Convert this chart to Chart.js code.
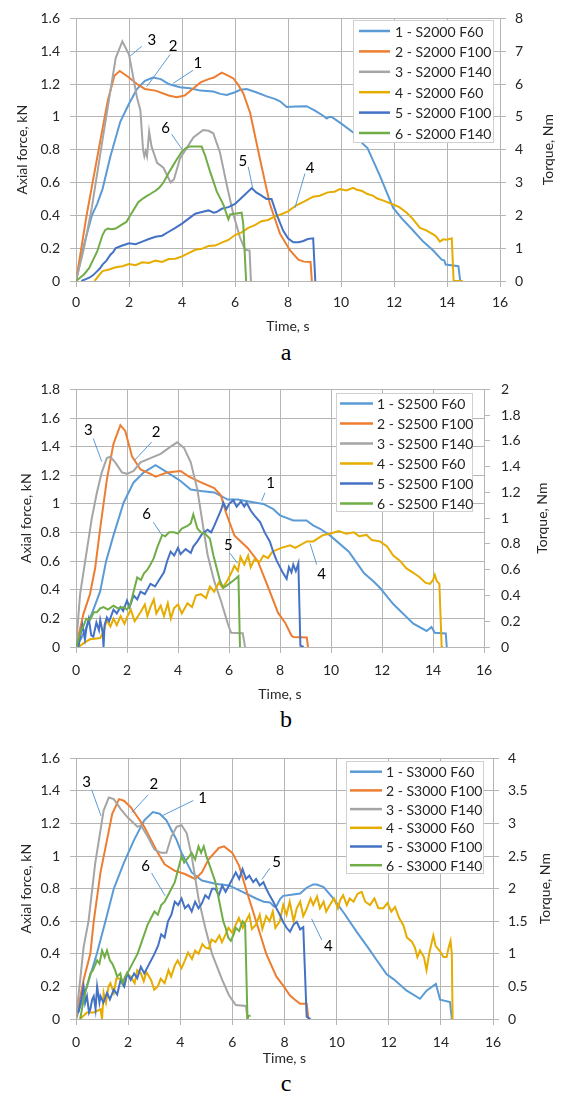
<!DOCTYPE html>
<html>
<head>
<meta charset="utf-8">
<script src="https://cdn.jsdelivr.net/npm/chart.js@4.4.0/dist/chart.umd.min.js"></script>
<style>
  body { margin: 0; background: #fff; width: 561px; height: 1097px; position: relative; overflow: hidden; }
  canvas { position: absolute; left: 0; }
  .cap { position: absolute; left: 0; width: 572px; text-align: center; font: 24px "Liberation Serif", serif; line-height: 24px; color: #000; }
</style>
</head>
<body>
<canvas id="chartA" width="561" height="337" style="top:0px;width:561px;height:337px"></canvas>
<div class="cap" style="top:340px">a</div>
<canvas id="chartB" width="561" height="335" style="top:370px;width:561px;height:335px"></canvas>
<div class="cap" style="top:707px">b</div>
<canvas id="chartC" width="561" height="329" style="top:740px;width:561px;height:329px"></canvas>
<div class="cap" style="top:1071px">c</div>
<script>
// series colours, same order in every panel
const colors = ['#5B9BD5', '#ED7D31', '#A5A5A5', '#E6AC00', '#4472C4', '#70AD47'];
const feeds = ['F60', 'F100', 'F140', 'F60', 'F100', 'F140'];

// ---- panel a: S2000 (1-3 axial force kN, 4-6 torque Nm) ----
const a1 = [[0,0],[0.3,0.22],[0.6,0.4],[0.8,0.47],[1.0,0.56],[1.3,0.76],[1.67,0.97],[2.0,1.08],[2.3,1.17],[2.6,1.22],[2.9,1.24],[3.2,1.23],[3.5,1.2],[3.92,1.18],[4.3,1.175],[4.7,1.16],[5.18,1.155],[5.45,1.14],[5.69,1.134],[6.0,1.15],[6.2,1.165],[6.44,1.17],[6.8,1.15],[7.2,1.125],[7.5,1.11],[7.7,1.095],[7.95,1.06],[8.3,1.063],[8.7,1.065],[9.0,1.04],[9.3,1.01],[9.46,0.99],[9.55,1.0],[9.65,1.0],[10.0,0.96],[10.46,0.905],[10.8,0.84],[11.0,0.81],[11.47,0.64],[11.97,0.445],[12.3,0.38],[12.73,0.306],[13.1,0.24],[13.48,0.186],[13.8,0.13],[13.9,0.125],[13.95,0.1],[14.43,0.09],[14.5,0]];
const a2 = [[0,0],[0.4,0.4],[0.9,0.84],[1.2,1.1],[1.45,1.25],[1.65,1.28],[2.0,1.24],[2.3,1.2],[2.6,1.17],[3.0,1.16],[3.5,1.13],[3.8,1.12],[4.1,1.13],[4.4,1.17],[4.7,1.21],[5.0,1.23],[5.2,1.24],[5.5,1.27],[5.7,1.255],[5.94,1.234],[6.1,1.2],[6.31,1.144],[6.57,1.025],[6.94,0.745],[7.32,0.467],[7.7,0.287],[8.08,0.186],[8.39,0.13],[8.6,0.118],[8.85,0.116],[8.9,0]];
const a3 = [[0,0],[0.3,0.2],[0.6,0.45],[1.0,0.86],[1.3,1.16],[1.5,1.36],[1.75,1.46],[2.0,1.38],[2.3,1.12],[2.43,1.04],[2.53,0.8],[2.58,0.76],[2.63,0.79],[2.68,0.76],[2.76,0.91],[2.85,0.82],[3.06,0.72],[3.3,0.69],[3.57,0.6],[3.7,0.62],[3.92,0.745],[4.43,0.875],[4.8,0.92],[5.0,0.915],[5.18,0.9],[5.43,0.785],[5.69,0.585],[5.94,0.405],[6.19,0.265],[6.38,0.19],[6.55,0.185],[6.6,0]];
const a4 = [[0.7,0],[0.8,0.1],[1.0,0.3],[1.25,0.35],[1.5,0.42],[1.75,0.45],[2.0,0.52],[2.25,0.48],[2.5,0.57],[2.75,0.55],[3.0,0.62],[3.25,0.58],[3.5,0.67],[3.75,0.68],[4.0,0.75],[4.25,0.85],[4.5,0.95],[4.75,0.98],[5.0,1.07],[5.25,1.08],[5.5,1.17],[5.75,1.25],[6.0,1.4],[6.25,1.48],[6.5,1.62],[6.75,1.7],[7.0,1.82],[7.25,1.86],[7.5,1.97],[7.7,2.02],[8.0,2.12],[8.3,2.3],[8.6,2.42],[8.95,2.57],[9.2,2.6],[9.5,2.7],[9.75,2.72],[9.96,2.8],[10.2,2.76],[10.46,2.84],[10.6,2.78],[10.8,2.74],[11.0,2.65],[11.2,2.6],[11.35,2.52],[11.6,2.45],[11.97,2.33],[12.2,2.25],[12.48,2.08],[12.7,1.9],[12.98,1.62],[13.2,1.55],[13.48,1.42],[13.6,1.35],[13.73,1.2],[13.86,1.27],[14.0,1.26],[14.18,1.3],[14.25,0],[14.6,0]];
const a5 = [[0.2,0],[0.35,0.05],[0.5,0.1],[0.65,0.18],[0.8,0.3],[0.9,0.38],[1.0,0.5],[1.15,0.62],[1.3,0.8],[1.4,0.88],[1.5,1.0],[1.75,1.08],[2.0,1.15],[2.25,1.12],[2.5,1.2],[2.75,1.28],[3.0,1.35],[3.25,1.38],[3.5,1.5],[3.75,1.62],[4.0,1.75],[4.25,1.9],[4.5,2.05],[4.75,2.1],[5.0,2.15],[5.2,2.08],[5.3,2.1],[5.5,2.2],[5.75,2.25],[6.0,2.35],[6.2,2.5],[6.4,2.65],[6.63,2.83],[6.8,2.7],[6.94,2.63],[7.19,2.5],[7.38,2.5],[7.57,2.03],[7.82,1.53],[8.0,1.3],[8.2,1.18],[8.4,1.18],[8.58,1.22],[8.75,1.28],[8.95,1.3],[9.03,0]];
const a6 = [[0,0],[0.15,0.1],[0.3,0.2],[0.5,0.4],[0.65,0.65],[0.8,0.9],[1.0,1.4],[1.1,1.55],[1.2,1.6],[1.35,1.58],[1.5,1.6],[1.7,1.7],[1.9,1.8],[2.05,2.0],[2.2,2.2],[2.35,2.4],[2.5,2.5],[2.65,2.58],[2.8,2.65],[3.0,2.75],[3.15,2.85],[3.3,3.0],[3.5,3.3],[3.65,3.5],[3.8,3.7],[4.0,3.95],[4.15,4.05],[4.3,4.1],[4.5,4.1],[4.74,4.1],[4.87,3.83],[5.06,3.33],[5.31,2.73],[5.56,2.33],[5.75,1.88],[5.82,2.03],[6.0,2.05],[6.25,2.08],[6.31,1.75],[6.42,0]];

// ---- panel b: S2500 ----
const b1 = [[0,0],[0.2,0.06],[0.42,0.14],[0.7,0.27],[0.95,0.39],[1.18,0.6],[1.47,0.78],[1.87,1.01],[2.26,1.15],[2.66,1.22],[3.12,1.27],[3.58,1.22],[4.1,1.16],[4.5,1.1],[4.9,1.09],[5.42,1.08],[5.95,1.03],[6.34,1.03],[7.0,1.01],[7.35,1.0],[7.72,0.966],[8.0,0.92],[8.52,0.884],[9.04,0.884],[9.3,0.85],[9.57,0.826],[9.96,0.78],[10.7,0.666],[11.3,0.515],[11.66,0.46],[11.92,0.414],[12.44,0.3],[13.23,0.163],[13.75,0.112],[13.94,0.14],[14.07,0.1],[14.5,0.094],[14.54,0]];
const b2 = [[0,0],[0.29,0.23],[0.55,0.37],[0.75,0.55],[0.95,0.83],[1.21,1.17],[1.47,1.42],[1.74,1.55],[1.93,1.51],[2.2,1.33],[2.53,1.24],[2.92,1.21],[3.12,1.19],[3.58,1.22],[4.1,1.23],[4.43,1.19],[4.9,1.15],[5.42,1.11],[5.68,1.06],[5.88,0.94],[6.21,0.78],[6.74,0.69],[7.13,0.6],[7.53,0.42],[7.92,0.24],[8.2,0.17],[8.45,0.08],[8.52,0.07],[9.05,0.066],[9.1,0]];
const b3 = [[0,0],[0.16,0.37],[0.36,0.6],[0.62,0.9],[0.82,1.08],[1.01,1.22],[1.21,1.32],[1.34,1.33],[1.54,1.29],[1.8,1.22],[2.0,1.21],[2.26,1.23],[2.53,1.29],[2.92,1.32],[3.32,1.35],[3.71,1.4],[3.97,1.43],[4.24,1.39],[4.5,1.29],[4.76,1.1],[4.96,0.87],[5.16,0.645],[5.42,0.46],[5.68,0.325],[5.95,0.165],[6.08,0.1],[6.54,0.096],[6.63,0]];
const b4 = [[0.1,0],[0.3,0.03],[0.55,0.06],[0.95,0.07],[1.1,0.13],[1.2,0.21],[1.35,0.16],[1.47,0.22],[1.6,0.17],[1.75,0.24],[1.9,0.18],[2.0,0.23],[2.15,0.29],[2.3,0.2],[2.53,0.27],[2.7,0.33],[2.8,0.24],[2.92,0.31],[3.05,0.37],[3.15,0.26],[3.32,0.32],[3.45,0.24],[3.6,0.34],[3.72,0.22],[3.84,0.3],[4.0,0.33],[4.15,0.26],[4.37,0.34],[4.55,0.31],[4.7,0.4],[4.9,0.41],[5.1,0.38],[5.25,0.47],[5.42,0.43],[5.6,0.5],[5.75,0.46],[5.95,0.52],[6.1,0.58],[6.21,0.63],[6.35,0.59],[6.45,0.7],[6.6,0.64],[6.75,0.71],[6.85,0.62],[7.0,0.68],[7.2,0.66],[7.35,0.71],[7.53,0.69],[7.7,0.74],[8.05,0.77],[8.4,0.79],[8.6,0.77],[9.05,0.82],[9.3,0.82],[9.7,0.87],[9.96,0.88],[10.3,0.9],[10.6,0.88],[10.9,0.89],[11.1,0.86],[11.4,0.87],[11.6,0.83],[11.92,0.82],[12.2,0.78],[12.44,0.71],[12.7,0.67],[12.96,0.61],[13.2,0.58],[13.49,0.54],[13.7,0.5],[13.88,0.49],[14.0,0.52],[14.07,0.56],[14.15,0.51],[14.25,0.49],[14.34,0],[14.4,0]];
const b5 = [[0.1,0],[0.16,0.08],[0.25,0.17],[0.35,0.06],[0.42,0.16],[0.5,0.22],[0.6,0.09],[0.68,0.08],[0.8,0.19],[0.9,0.13],[0.95,0.21],[1.05,0.11],[1.08,0],[1.12,0.17],[1.21,0.23],[1.3,0.2],[1.47,0.29],[1.6,0.26],[1.74,0.31],[1.85,0.28],[2.0,0.36],[2.1,0.31],[2.26,0.4],[2.4,0.37],[2.53,0.43],[2.7,0.41],[2.92,0.49],[3.1,0.47],[3.32,0.54],[3.45,0.58],[3.58,0.67],[3.71,0.74],[3.85,0.71],[4.0,0.77],[4.1,0.72],[4.3,0.76],[4.5,0.73],[4.6,0.78],[4.76,0.82],[4.95,0.88],[5.16,0.91],[5.3,0.89],[5.42,0.94],[5.55,1.0],[5.68,1.06],[5.78,1.12],[5.9,1.07],[6.0,1.11],[6.17,1.14],[6.3,1.09],[6.47,1.13],[6.6,1.09],[6.69,1.12],[6.85,1.06],[7.0,1.02],[7.22,0.97],[7.4,0.89],[7.6,0.82],[7.75,0.73],[7.87,0.67],[8.0,0.62],[8.1,0.58],[8.26,0.53],[8.35,0.62],[8.45,0.58],[8.52,0.64],[8.62,0.59],[8.72,0.65],[8.8,0.01],[8.93,0]];
const b6 = [[0,0],[0.1,0.06],[0.2,0.13],[0.29,0.16],[0.4,0.22],[0.55,0.21],[0.7,0.27],[0.82,0.27],[0.95,0.3],[1.08,0.31],[1.25,0.29],[1.47,0.32],[1.65,0.3],[1.87,0.31],[2.0,0.29],[2.13,0.33],[2.26,0.43],[2.4,0.54],[2.55,0.52],[2.66,0.57],[2.8,0.6],[2.92,0.64],[3.05,0.69],[3.18,0.77],[3.38,0.87],[3.5,0.86],[3.65,0.89],[3.84,0.89],[4.0,0.88],[4.15,0.92],[4.37,0.94],[4.5,0.96],[4.6,1.03],[4.7,0.96],[4.76,0.92],[4.9,0.89],[5.06,0.88],[5.25,0.84],[5.39,0.71],[5.65,0.51],[5.78,0.46],[6.0,0.49],[6.2,0.52],[6.37,0.55],[6.43,0]];

// ---- panel c: S3000 ----
const c1 = [[0,0],[0.42,0.2],[0.8,0.4],[1.13,0.6],[1.45,0.8],[1.84,0.96],[2.23,1.1],[2.62,1.22],[2.95,1.27],[3.21,1.26],[3.47,1.22],[3.66,1.16],[3.86,1.1],[4.05,1.02],[4.25,0.96],[4.44,0.9],[4.83,0.85],[5.35,0.83],[5.87,0.82],[6.39,0.78],[6.91,0.74],[7.2,0.72],[7.44,0.716],[7.6,0.69],[7.7,0.696],[7.83,0.736],[7.95,0.756],[8.4,0.766],[8.6,0.77],[8.85,0.806],[9.1,0.826],[9.24,0.826],[9.5,0.81],[9.87,0.74],[10.3,0.646],[10.77,0.535],[11.2,0.44],[11.5,0.37],[11.92,0.275],[12.18,0.245],[12.69,0.174],[13.2,0.124],[13.45,0.174],[13.81,0.215],[13.97,0.118],[14.35,0.104],[14.42,0]];
const c2 = [[0,0],[0.29,0.24],[0.55,0.4],[0.68,0.6],[0.94,0.9],[1.19,1.1],[1.39,1.26],[1.65,1.35],[1.84,1.34],[2.1,1.3],[2.36,1.24],[2.62,1.18],[2.88,1.1],[3.14,1.02],[3.4,0.95],[3.79,0.91],[4.18,0.89],[4.57,0.86],[4.83,0.9],[5.09,0.98],[5.48,1.05],[5.68,1.06],[6.0,1.02],[6.26,0.94],[6.52,0.8],[6.91,0.6],[7.3,0.4],[7.69,0.26],[7.95,0.205],[8.21,0.144],[8.4,0.118],[8.6,0.094],[8.85,0.094],[8.92,0]];
const c3 = [[0,0],[0.16,0.24],[0.29,0.44],[0.48,0.6],[0.74,0.96],[0.94,1.16],[1.06,1.28],[1.26,1.36],[1.45,1.35],[1.71,1.29],[1.97,1.24],[2.23,1.2],[2.36,1.18],[2.49,1.19],[2.75,1.12],[3.01,1.04],[3.27,1.02],[3.47,1.02],[3.66,1.12],[3.86,1.18],[4.05,1.19],[4.25,1.14],[4.44,1.0],[4.7,0.74],[4.96,0.56],[5.22,0.4],[5.61,0.24],[5.87,0.146],[6.13,0.086],[6.52,0.08],[6.58,0]];
const c4 = [[0.16,0],[0.42,0.1],[0.68,0.1],[0.94,0.15],[1.0,0.0],[1.06,0.4],[1.15,0.25],[1.25,0.5],[1.32,0.55],[1.45,0.4],[1.55,0.62],[1.71,0.62],[1.85,0.52],[1.95,0.7],[2.1,0.65],[2.25,0.55],[2.35,0.75],[2.49,0.7],[2.6,0.58],[2.7,0.72],[2.88,0.6],[3.0,0.45],[3.14,0.5],[3.25,0.62],[3.4,0.55],[3.55,0.75],[3.65,0.65],[3.79,0.82],[3.9,0.9],[4.05,0.78],[4.18,0.9],[4.3,1.02],[4.45,0.92],[4.57,1.05],[4.7,1.0],[4.85,1.15],[4.96,1.1],[5.1,1.08],[5.2,1.22],[5.35,1.18],[5.5,1.28],[5.6,1.18],[5.74,1.3],[5.85,1.4],[6.0,1.32],[6.13,1.45],[6.25,1.55],[6.4,1.4],[6.52,1.5],[6.65,1.6],[6.75,1.38],[6.91,1.45],[7.05,1.6],[7.15,1.38],[7.3,1.58],[7.43,1.5],[7.55,1.65],[7.65,1.4],[7.82,1.5],[7.95,1.75],[8.08,1.6],[8.2,1.8],[8.35,1.5],[8.47,1.7],[8.6,1.8],[8.72,1.58],[8.85,1.69],[9.0,1.85],[9.1,1.75],[9.25,1.88],[9.36,1.7],[9.5,1.8],[9.6,1.65],[9.74,1.75],[9.9,1.85],[10.05,1.7],[10.13,1.82],[10.25,1.9],[10.39,1.75],[10.5,1.85],[10.65,1.8],[10.8,1.92],[10.96,1.95],[11.1,1.8],[11.28,1.75],[11.45,1.85],[11.6,1.7],[11.79,1.7],[11.95,1.78],[12.1,1.65],[12.24,1.72],[12.4,1.55],[12.56,1.44],[12.7,1.25],[12.88,1.19],[13.0,1.1],[13.1,0.95],[13.2,1.05],[13.35,0.95],[13.45,0.75],[13.55,1.0],[13.71,1.28],[13.8,1.12],[13.97,1.04],[14.1,0.95],[14.22,0.95],[14.3,1.1],[14.37,1.2],[14.42,1.0],[14.45,0]];
const c5 = [[0.09,0.1],[0.2,0.3],[0.29,0.5],[0.35,0.25],[0.42,0.35],[0.5,0.1],[0.55,0.15],[0.62,0.3],[0.68,0.35],[0.75,0.15],[0.81,0.5],[0.9,0.25],[0.94,0.35],[1.05,0.25],[1.19,0.4],[1.3,0.3],[1.45,0.45],[1.58,0.375],[1.71,0.6],[1.85,0.5],[1.97,0.7],[2.1,0.6],[2.23,0.7],[2.35,0.625],[2.49,0.8],[2.62,0.7],[2.75,0.8],[2.88,0.9],[3.01,1.0],[3.15,1.125],[3.27,1.3],[3.4,1.25],[3.53,1.5],[3.66,1.6],[3.79,1.8],[3.92,1.75],[4.05,1.85],[4.18,1.7],[4.31,1.75],[4.44,1.65],[4.57,1.8],[4.7,1.7],[4.83,1.775],[4.96,1.9],[5.09,1.85],[5.22,2.0],[5.35,2.0],[5.48,1.9],[5.61,2.05],[5.74,1.95],[5.87,2.05],[6.0,2.15],[6.13,2.25],[6.26,2.15],[6.39,2.3],[6.52,2.15],[6.65,2.2],[6.8,2.1],[6.91,2.15],[7.05,2.05],[7.19,2.1],[7.3,2.0],[7.44,1.89],[7.57,1.8],[7.7,1.69],[7.82,1.6],[7.95,1.49],[8.08,1.4],[8.21,1.34],[8.35,1.45],[8.47,1.49],[8.6,1.375],[8.72,1.41],[8.85,0.035],[9.0,0]];
const c6 = [[0.16,0],[0.25,0.2],[0.35,0.4],[0.45,0.55],[0.55,0.7],[0.65,0.75],[0.81,0.9],[0.9,0.85],[1.0,1.05],[1.1,0.95],[1.19,1.05],[1.3,0.9],[1.39,0.85],[1.5,0.75],[1.58,0.65],[1.7,0.7],[1.78,0.55],[1.88,0.65],[1.97,0.7],[2.1,0.8],[2.23,0.9],[2.36,1.0],[2.49,1.15],[2.62,1.3],[2.75,1.45],[2.88,1.55],[3.01,1.65],[3.14,1.6],[3.27,1.75],[3.4,1.8],[3.53,1.9],[3.66,2.0],[3.79,2.1],[3.92,2.3],[4.05,2.5],[4.15,2.4],[4.25,2.45],[4.35,2.5],[4.44,2.55],[4.57,2.45],[4.7,2.65],[4.8,2.55],[4.9,2.65],[5.0,2.5],[5.09,2.4],[5.22,2.25],[5.35,2.1],[5.45,1.9],[5.55,1.7],[5.65,1.5],[5.74,1.4],[5.84,1.25],[5.94,1.2],[6.05,1.3],[6.13,1.4],[6.26,1.35],[6.39,1.5],[6.49,1.45],[6.58,0],[6.62,0.05],[6.7,0.05]];

// number labels with leader lines, in left-axis units (t, kN)
const notesA = [
  { text: '1', at: [4.6, 1.33], from: [4.42, 1.284], to: [3.66, 1.204] },
  { text: '2', at: [3.66, 1.43], from: [3.55, 1.38], to: [2.67, 1.184] },
  { text: '3', at: [2.86, 1.47], from: [2.48, 1.43], to: [2.04, 1.37] },
  { text: '4', at: [8.83, 0.689], from: [8.64, 0.655], to: [8.26, 0.445] },
  { text: '5', at: [6.3, 0.73], from: [6.5, 0.695], to: [6.67, 0.565] },
  { text: '6', at: [3.38, 0.934], from: [3.61, 0.894], to: [3.99, 0.805] }
];
const notesB = [
  { text: '1', at: [7.63, 1.147], from: [7.41, 1.078], to: [7.28, 1.021] },
  { text: '2', at: [3.14, 1.502], from: [2.97, 1.433], to: [2.31, 1.307] },
  { text: '3', at: [0.48, 1.513], from: [0.68, 1.456], to: [1.01, 1.296] },
  { text: '4', at: [9.63, 0.51], from: [9.44, 0.575], to: [9.18, 0.723] },
  { text: '5', at: [5.97, 0.712], from: [6.04, 0.655], to: [6.33, 0.586] },
  { text: '6', at: [2.77, 0.93], from: [3.03, 0.872], to: [3.36, 0.785] }
];
const notesC = [
  { text: '1', at: [4.86, 1.358], from: [4.5, 1.341], to: [3.29, 1.247] },
  { text: '2', at: [2.99, 1.442], from: [2.77, 1.377], to: [2.14, 1.267] },
  { text: '3', at: [0.41, 1.454], from: [0.6, 1.408], to: [0.96, 1.247] },
  { text: '4', at: [9.68, 0.445], from: [9.43, 0.485], to: [9.04, 0.615] },
  { text: '5', at: [7.7, 0.96], from: [7.44, 0.926], to: [7.13, 0.856] },
  { text: '6', at: [2.67, 0.94], from: [2.9, 0.896], to: [3.42, 0.756] }
];

const GRID = '#b5b5b5';
const TEXT = '#262626';
Chart.defaults.font.family = 'Lato, "Open Sans", sans-serif';
Chart.defaults.font.size = 14;
Chart.defaults.color = TEXT;

// Excel style numbers: 1 not 1.0
const plain = v => String(Number(v.toFixed(2)));

// draws the leader labels, the legend box and the right axis title
const extras = {
  id: 'extras',
  afterDatasetsDraw(chart, args, opt) {
    const ctx = chart.ctx, ca = chart.chartArea;
    const sx = chart.scales.x, sy = chart.scales.y;
    ctx.save();
    ctx.lineWidth = 1;
    ctx.strokeStyle = '#5B9BD5';
    ctx.fillStyle = '#000';
    ctx.font = '15px Lato, sans-serif';
    ctx.textAlign = 'center';
    ctx.textBaseline = 'middle';
    opt.notes.forEach(n => {
      ctx.beginPath();
      ctx.moveTo(sx.getPixelForValue(n.from[0]), sy.getPixelForValue(n.from[1]));
      ctx.lineTo(sx.getPixelForValue(n.to[0]), sy.getPixelForValue(n.to[1]));
      ctx.stroke();
      ctx.fillText(n.text, sx.getPixelForValue(n.at[0]), sy.getPixelForValue(n.at[1]));
    });

    const L = opt.legend;
    ctx.fillStyle = '#fff';
    ctx.fillRect(L.x, L.y, L.w, L.h);
    ctx.strokeStyle = '#d0d0d0';
    ctx.strokeRect(L.x + 0.5, L.y + 0.5, L.w, L.h);
    ctx.font = '14px Lato, sans-serif';
    ctx.textAlign = 'left';
    chart.data.datasets.forEach((d, i) => {
      const yy = L.y + L.first + i * L.row;
      ctx.strokeStyle = d.borderColor;
      ctx.lineWidth = 2.5;
      ctx.beginPath();
      ctx.moveTo(L.x + L.l0, yy);
      ctx.lineTo(L.x + L.l1, yy);
      ctx.stroke();
      ctx.fillStyle = TEXT;
      ctx.fillText(d.label, L.x + L.tx, yy + 1);
    });

    ctx.translate(opt.torqueX, (ca.top + ca.bottom) / 2);
    ctx.rotate(-Math.PI / 2);
    ctx.textAlign = 'center';
    ctx.fillStyle = TEXT;
    ctx.fillText('Torque, Nm', 0, 0);
    ctx.restore();
  }
};

function panel(id, speed, series, p) {
  const datasets = series.map((s, i) => ({
    label: (i + 1) + ' - ' + speed + ' ' + feeds[i],
    data: s.map(([x, y]) => ({ x, y })),
    borderColor: colors[i],
    borderWidth: 2,
    pointRadius: 0,
    tension: 0,
    yAxisID: i < 3 ? 'y' : 'y2',
    order: -i
  }));
  const titleFont = { size: 14, weight: 'normal' };
  return new Chart(document.getElementById(id), {
    type: 'line',
    data: { datasets },
    plugins: [extras],
    options: {
      responsive: false,
      animation: false,
      layout: { padding: { top: p.top, left: 0, right: 0, bottom: 0 } },
      plugins: {
        legend: { display: false },
        tooltip: { enabled: false },
        extras: { notes: p.notes, legend: p.legend, torqueX: p.torqueX }
      },
      scales: {
        x: {
          type: 'linear', min: 0, max: 16,
          ticks: { stepSize: 2, padding: p.xPad, callback: plain },
          grid: { color: GRID, tickLength: 6 },
          border: { color: GRID },
          title: { display: true, text: 'Time, s', font: titleFont, padding: { top: 0, bottom: 2 } },
          afterFit: s => { s.height = p.xH; }
        },
        y: {
          position: 'left', min: 0, max: p.yMax,
          ticks: { stepSize: 0.2, padding: 10, callback: plain },
          grid: { color: GRID, tickLength: 6 },
          border: { color: GRID },
          title: { display: true, text: 'Axial force, kN', font: titleFont, padding: { top: p.yTitle, bottom: 0 } },
          afterFit: s => { s.width = 76; }
        },
        y2: {
          position: 'right', min: 0, max: p.y2Max,
          ticks: { stepSize: p.y2Step, padding: p.y2Pad, callback: plain },
          grid: { drawOnChartArea: false, color: GRID, tickLength: 6 },
          border: { color: GRID },
          afterFit: s => { s.width = 561 - p.right; }
        }
      }
    }
  });
}

panel('chartA', 'S2000', [a1, a2, a3, a4, a5, a6], {
  top: 14, right: 500, xH: 56, xPad: 7, yMax: 1.6, y2Max: 8, y2Step: 1, y2Pad: 9, yTitle: 14,
  torqueX: 548, notes: notesA,
  legend: { x: 353, y: 20, w: 140, h: 122, first: 11, row: 20.4, l0: 6, l1: 37, tx: 42 }
});
panel('chartB', 'S2500', [b1, b2, b3, b4, b5, b6], {
  top: 15, right: 484, xH: 58, xPad: 9, yMax: 1.8, y2Max: 2, y2Step: 0.2, y2Pad: 11, yTitle: 18,
  torqueX: 542, notes: notesB,
  legend: { x: 336, y: 23, w: 136, h: 118, first: 10.5, row: 20, l0: 4, l1: 37, tx: 41 }
});
panel('chartC', 'S3000', [c1, c2, c3, c4, c5, c6], {
  top: 13, right: 493, xH: 50, xPad: 9, yMax: 1.6, y2Max: 4, y2Step: 0.5, y2Pad: 9, yTitle: 18,
  torqueX: 545, notes: notesC,
  legend: { x: 346, y: 21, w: 137, h: 112, first: 10.7, row: 18.7, l0: 4, l1: 36, tx: 40 }
});
</script>
</body>
</html>
